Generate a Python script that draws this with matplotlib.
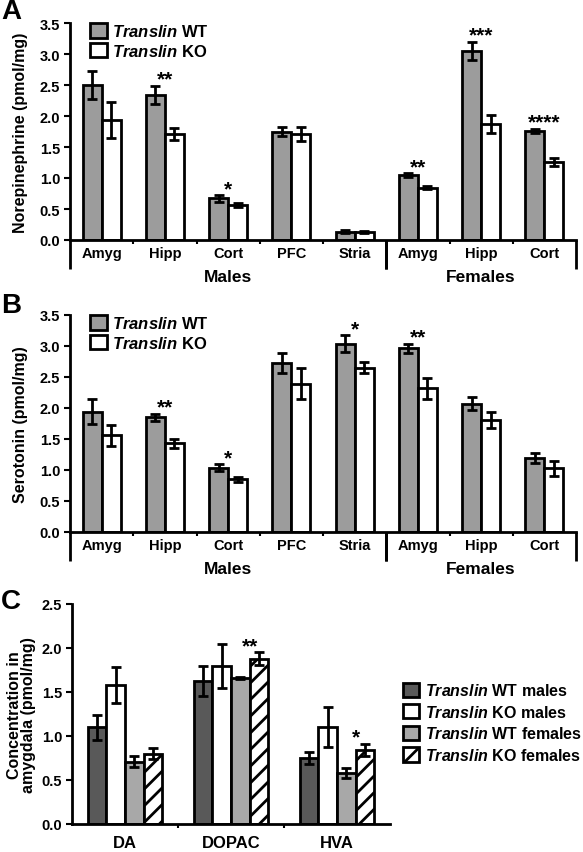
import matplotlib
matplotlib.use("Agg")
import matplotlib.pyplot as plt
import matplotlib.transforms as mtransforms
import numpy as np
from matplotlib.patches import Patch
from matplotlib.ticker import FormatStrFormatter, MultipleLocator, FixedLocator

plt.rcParams["font.family"] = ["Liberation Sans", "DejaVu Sans"]
plt.rcParams["font.weight"] = "bold"
plt.rcParams["axes.labelweight"] = "bold"
plt.rcParams["mathtext.fontset"] = "custom"
plt.rcParams["mathtext.it"] = "Liberation Sans:italic:bold"
plt.rcParams["mathtext.rm"] = "Liberation Sans:bold"
plt.rcParams["hatch.linewidth"] = 2.0

# ---- data ----
REGIONS = ["Amyg", "Hipp", "Cort", "PFC", "Stria", "Amyg", "Hipp", "Cort"]
GROUPS = ["Males", "Females"]
GROUP_SPAN = [(-0.5, 4.5), (4.5, 7.5)]

NE_WT = [2.50, 2.34, 0.67, 1.75, 0.135, 1.045, 3.05, 1.76]
NE_WT_ERR = [0.22, 0.15, 0.05, 0.08, 0.02, 0.03, 0.14, 0.03]
NE_KO = [1.93, 1.71, 0.56, 1.71, 0.13, 0.845, 1.87, 1.26]
NE_KO_ERR = [0.29, 0.10, 0.03, 0.12, 0.015, 0.03, 0.14, 0.07]
NE_STARS = ["", "**", "*", "", "", "**", "***", "****"]

SER_WT = [1.94, 1.85, 1.04, 2.72, 3.04, 2.96, 2.07, 1.19]
SER_WT_ERR = [0.20, 0.06, 0.05, 0.16, 0.13, 0.08, 0.10, 0.08]
SER_KO = [1.56, 1.43, 0.85, 2.39, 2.65, 2.32, 1.81, 1.03]
SER_KO_ERR = [0.17, 0.07, 0.04, 0.25, 0.09, 0.17, 0.13, 0.12]
SER_STARS = ["", "**", "*", "", "*", "**", "", ""]

METABOLITES = ["DA", "DOPAC", "HVA"]
C_LABELS = ["WT males", "KO males", "WT females", "KO females"]
C_VALUES = [
    [1.10, 1.63, 0.75],   # WT males
    [1.58, 1.79, 1.10],   # KO males
    [0.71, 1.66, 0.58],   # WT females
    [0.80, 1.88, 0.84],   # KO females
]
C_ERRORS = [
    [0.14, 0.17, 0.07],
    [0.20, 0.25, 0.23],
    [0.06, 0.01, 0.06],
    [0.06, 0.07, 0.07],
]
C_STARS = ["", "**", "*"]

# ---- styling ----
WT_GRAY = "#9c9c9c"
C_FACES = ["#595959", "white", "#a8a8a8", "white"]
C_HATCH = [None, None, None, "//"]
ERR_KW = dict(elinewidth=2, capsize=3.6, capthick=2, ecolor="black")
FIG_W, FIG_H = 583, 853


def style_axis(ax):
    for side in ("top", "right"):
        ax.spines[side].set_visible(False)
    for side in ("left", "bottom"):
        ax.spines[side].set_linewidth(2)
    ax.tick_params(axis="y", direction="out", length=4, width=1.5,
                   labelsize=10.5, pad=3)
    ax.yaxis.set_major_formatter(FormatStrFormatter("%.1f"))


def bold_ticks(ax):
    for lab in ax.get_xticklabels() + ax.get_yticklabels():
        lab.set_fontweight("bold")


def panel_ab(ax, wt, wt_err, ko, ko_err, stars, ylabel):
    x = np.arange(len(REGIONS))
    w = 0.3
    ax.bar(x - w / 2, wt, w, yerr=wt_err, color=WT_GRAY, edgecolor="black",
           linewidth=2, error_kw=ERR_KW, label=r"$\it{Translin}$ WT")
    ax.bar(x + w / 2, ko, w, yerr=ko_err, color="white",
           edgecolor="black", linewidth=2, error_kw=ERR_KW,
           label=r"$\it{Translin}$ KO")
    ax.set_xlim(-0.5, len(REGIONS) - 0.5)
    ax.set_ylim(0, 3.5)
    ax.yaxis.set_major_locator(MultipleLocator(0.5))
    style_axis(ax)
    ax.set_xticks(x)
    ax.set_xticklabels(REGIONS)
    ax.tick_params(axis="x", which="major", length=0, labelsize=10.5, pad=4)
    ax.xaxis.set_minor_locator(FixedLocator([0.5, 1.5, 2.5, 3.5, 5.5, 6.5]))
    ax.tick_params(axis="x", which="minor", direction="out", length=3, width=1.5)
    bold_ticks(ax)

    tops = np.maximum(np.array(wt) + wt_err, np.array(ko) + ko_err)
    for i, s in enumerate(stars):
        if s:
            ax.annotate(s, (i, tops[i]), xytext=(0, 1.0),
                        textcoords="offset points", ha="center",
                        va="baseline", fontsize=15)

    trans = mtransforms.blended_transform_factory(ax.transData, ax.transAxes)
    for lo, hi in GROUP_SPAN:
        for xs in (lo, hi):
            ax.plot([xs, xs], [0, -0.134], transform=trans, color="black",
                    lw=2, clip_on=False, solid_capstyle="butt")
    for name, (lo, hi) in zip(GROUPS, GROUP_SPAN):
        ax.text((lo + hi) / 2, -0.166, name, transform=trans, ha="center",
                va="center", fontsize=12.5)

    ax.set_ylabel(ylabel, fontsize=11.5)
    ax.yaxis.set_label_coords(-0.083, 0.5)
    ax.legend(loc="upper left", bbox_to_anchor=(0.04, 1.0), frameon=False,
              fontsize=12, handlelength=1.0, handleheight=1.0,
              handletextpad=0.3, labelspacing=0.2, borderpad=0,
              borderaxespad=0)


fig = plt.figure(figsize=(FIG_W / 100, FIG_H / 100), dpi=100)

ax_a = fig.add_axes([70 / FIG_W, 1 - 241 / FIG_H, 506 / FIG_W, 217 / FIG_H])
panel_ab(ax_a, NE_WT, NE_WT_ERR, NE_KO, NE_KO_ERR, NE_STARS,
         "Norepinephrine (pmol/mg)")

ax_b = fig.add_axes([70 / FIG_W, 1 - 533 / FIG_H, 506 / FIG_W, 217 / FIG_H])
panel_ab(ax_b, SER_WT, SER_WT_ERR, SER_KO, SER_KO_ERR, SER_STARS,
         "Serotonin (pmol/mg)")

# ---- panel C ----
ax_c = fig.add_axes([72 / FIG_W, 1 - 825 / FIG_H, 318 / FIG_W, 220 / FIG_H])
xc = np.arange(len(METABOLITES))
wc = 0.175
for k, (vals, errs) in enumerate(zip(C_VALUES, C_ERRORS)):
    ax_c.bar(xc + (k - 1.5) * wc, vals, wc, yerr=errs, color=C_FACES[k],
             edgecolor="black", linewidth=2, hatch=C_HATCH[k],
             error_kw=ERR_KW)
ax_c.set_xlim(-0.5, 2.5)
ax_c.set_ylim(0, 2.5)
ax_c.yaxis.set_major_locator(MultipleLocator(0.5))
style_axis(ax_c)
ax_c.set_xticks(xc)
ax_c.set_xticklabels(METABOLITES)
ax_c.tick_params(axis="x", which="major", length=0, labelsize=12, pad=8)
ax_c.xaxis.set_minor_locator(FixedLocator([0.5, 1.5]))
ax_c.tick_params(axis="x", which="minor", direction="out", length=3, width=1.5)
bold_ticks(ax_c)

fem_tops = np.maximum(np.array(C_VALUES[2]) + C_ERRORS[2],
                      np.array(C_VALUES[3]) + C_ERRORS[3])
for i, s in enumerate(C_STARS):
    if s:
        ax_c.annotate(s, (xc[i] + wc, fem_tops[i]), xytext=(0, 1.0),
                      textcoords="offset points", ha="center",
                      va="baseline", fontsize=15)

ax_c.set_ylabel("Concentration in\namygdala (pmol/mg)", fontsize=11.5,
                linespacing=0.95)
ax_c.yaxis.set_label_coords(-0.113, 0.5)

handles = [Patch(facecolor=C_FACES[k], edgecolor="black", linewidth=2,
                 hatch=C_HATCH[k]) for k in range(4)]
labels = [r"$\it{Translin}$ " + lab for lab in C_LABELS]
ax_c.legend(handles, labels, loc="center left", bbox_to_anchor=(1.041, 0.461),
            frameon=False, fontsize=11.5, handlelength=1.0, handleheight=1.0,
            handletextpad=0.4, labelspacing=0.35, borderpad=0, borderaxespad=0)

for letter, yc in (("A", 12), ("B", 306), ("C", 602)):
    fig.text(1 / FIG_W, 1 - yc / FIG_H, letter, fontsize=20, ha="left",
             va="center")

fig.savefig("out.png", dpi=100)
